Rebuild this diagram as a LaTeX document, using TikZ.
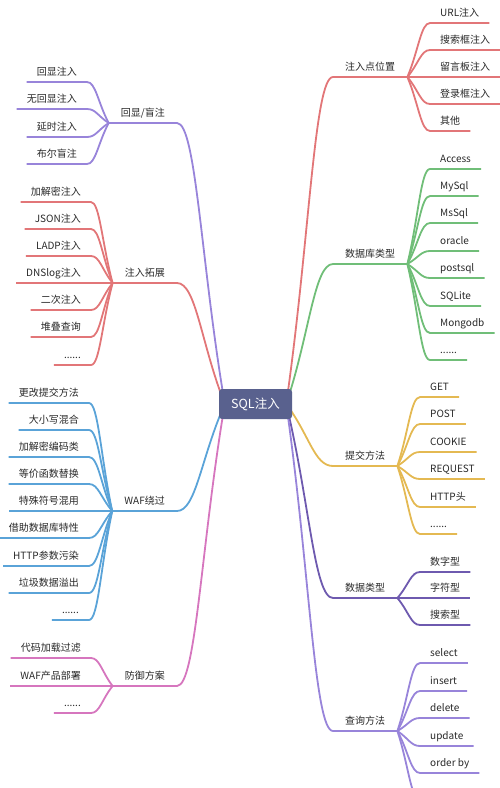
\documentclass[tikz,border=0pt]{standalone}
\usepackage{fontspec}
\setmainfont{Noto Sans CJK SC}
\usetikzlibrary{calc}
\usetikzlibrary{backgrounds}
\definecolor{cRoot}{RGB}{89,97,142}
\definecolor{cText}{RGB}{40,40,40}
\definecolor{cRed}{RGB}{226,118,120}
\definecolor{cGreen}{RGB}{112,190,120}
\definecolor{cGold}{RGB}{228,185,82}
\definecolor{cDeep}{RGB}{110,90,175}
\definecolor{cLav}{RGB}{152,132,218}
\definecolor{cBlue}{RGB}{90,163,216}
\definecolor{cPink}{RGB}{214,118,190}
\tikzset{rootnode/.style={fill=cRoot, text=white, rounded corners=3pt,
   minimum width=73pt, minimum height=30pt, inner sep=0pt,
   font=\fontsize{12.5}{14}\selectfont},
 hubnode/.style={inner xsep=12pt, inner ysep=4pt, text height=8pt,
   text depth=2pt, text=cText, font=\fontsize{10}{12}\selectfont},
 leafnode/.style={hubnode, inner xsep=10pt},
 twig/.style={line width=1.8pt, line join=round},
 curvy/.style={to path={.. controls ($(\tikztostart)!0.5!(\tikztotarget)$)
   and ($(\tikztotarget)!0.4!(\tikztostart|-\tikztotarget)$) .. (\tikztotarget)}},
 }
\newcommand\moredots{......}

\begin{document}
\begin{tikzpicture}[x=1pt,y=-1pt]
        \useasboundingbox (0,0) rectangle (500,788);
        \node[rootnode] (root) at (255.5,404) {SQL注入};
        \coordinate (rE) at ($(root.east)+(-6,0)$);
        \coordinate (rW) at ($(root.west)+(6,0)$);
        % right side
        \foreach \name/\txt/\y/\col in {inj/注入点位置/77/cRed, db/数据库类型/264/cGreen,
                sub/提交方法/466/cGold, dt/数据类型/598/cDeep, qry/查询方法/731/cLav} {
            \node[hubnode, anchor=south west] (\name) at (333,\y) {\txt};
            \begin{scope}[on background layer]
                \draw[twig, draw=\col] (rE) to[curvy] (\name.south west) -- (\name.south east);
            \end{scope}
        }
        % left side
        \foreach \name/\txt/\y/\col in {echo/{回显/盲注}/123/cLav, ext/注入拓展/283/cRed,
                waf/WAF绕过/511/cBlue, def/防御方案/686/cPink} {
            \node[hubnode, anchor=south east] (\name) at (177,\y) {\txt};
            \begin{scope}[on background layer]
                \draw[twig, draw=\col] (rW) to[curvy] (\name.south east) -- (\name.south west);
            \end{scope}
        }
        % leaves
        \foreach \txt/\y [count=\i] in {URL注入/23, 搜索框注入/50, 留言板注入/77, 登录框注入/104, 其他/131} {
            \node[leafnode, anchor=south west] (inj\i) at (430,\y) {\txt};
            \draw[twig, draw=cRed] (inj.south east) to[curvy] (inj\i.south west) -- (inj\i.south east);
        }
        \foreach \txt/\y [count=\i] in {Access/169, MySql/196, MsSql/223, oracle/251, postsql/278,
                SQLite/306, Mongodb/333, \moredots/360} {
            \node[leafnode, anchor=south west] (db\i) at (430,\y) {\txt};
            \draw[twig, draw=cGreen] (db.south east) to[curvy] (db\i.south west) -- (db\i.south east);
        }
        \foreach \txt/\y [count=\i] in {GET/397, POST/424, COOKIE/452, REQUEST/479, HTTP头/507, \moredots/534} {
            \node[leafnode, anchor=south west] (sub\i) at (420,\y) {\txt};
            \draw[twig, draw=cGold] (sub.south east) to[curvy] (sub\i.south west) -- (sub\i.south east);
        }
        \foreach \txt/\y [count=\i] in {数字型/572, 字符型/598, 搜索型/625} {
            \node[leafnode, anchor=south west] (dt\i) at (420,\y) {\txt};
            \draw[twig, draw=cDeep] (dt.south east) to[curvy] (dt\i.south west) -- (dt\i.south east);
        }
        \foreach \txt/\y [count=\i] in {select/663, insert/691, delete/718, update/746, order by/773} {
            \node[leafnode, anchor=south west] (qry\i) at (420,\y) {\txt};
            \draw[twig, draw=cLav] (qry.south east) to[curvy] (qry\i.south west) -- (qry\i.south east);
        }
        \coordinate (qry6) at (420,800);
        \draw[twig, draw=cLav] (qry.south east) to[curvy] (qry6);
        \foreach \txt/\y [count=\i] in {回显注入/82, 无回显注入/109, 延时注入/137, 布尔盲注/164} {
            \node[leafnode, anchor=south east] (echo\i) at (87,\y) {\txt};
            \draw[twig, draw=cLav] (echo.south west) to[curvy] (echo\i.south east) -- (echo\i.south west);
        }
        \foreach \txt/\y [count=\i] in {加解密注入/202, JSON注入/229, LADP注入/256, DNSlog注入/283,
                二次注入/310, 堆叠查询/337, \moredots/365} {
            \node[leafnode, anchor=south east] (ext\i) at (91,\y) {\txt};
            \draw[twig, draw=cRed] (ext.south west) to[curvy] (ext\i.south east) -- (ext\i.south west);
        }
        \foreach \txt/\y [count=\i] in {更改提交方法/403, 大小写混合/430, 加解密编码类/457, 等价函数替换/484,
                特殊符号混用/511, 借助数据库特性/538, HTTP参数污染/566, 垃圾数据溢出/593, \moredots/620} {
            \node[leafnode, anchor=south east] (waf\i) at (89,\y) {\txt};
            \draw[twig, draw=cBlue] (waf.south west) to[curvy] (waf\i.south east) -- (waf\i.south west);
        }
        \foreach \txt/\y [count=\i] in {代码加载过滤/658, WAF产品部署/686, \moredots/713} {
            \node[leafnode, anchor=south east] (def\i) at (91,\y) {\txt};
            \draw[twig, draw=cPink] (def.south west) to[curvy] (def\i.south east) -- (def\i.south west);
        }
    \end{tikzpicture}
\end{document}
